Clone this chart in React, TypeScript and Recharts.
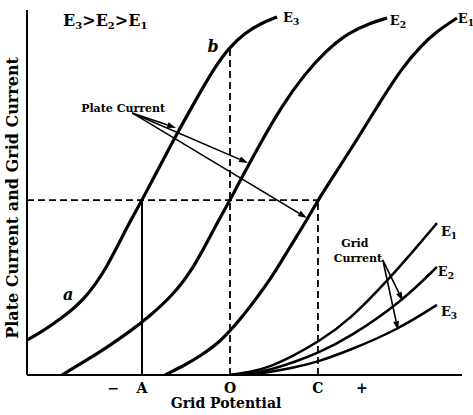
import React from 'react';
import { LineChart, Line, XAxis, YAxis, ReferenceLine, ReferenceDot } from 'recharts';

const SERIF = '"DejaVu Serif", "Liberation Serif", serif';

// grid potential (x) against current (y)
const plateE3 = [
  { x: -9.23, y: 9.6 }, { x: -8.64, y: 11.5 }, { x: -7.64, y: 15.6 }, { x: -6.64, y: 20.5 },
  { x: -5.64, y: 28.8 }, { x: -4.64, y: 41.1 }, { x: -4, y: 47.9 }, { x: -3.64, y: 52.1 },
  { x: -2.64, y: 63.6 }, { x: -1.64, y: 74.5 }, { x: -0.64, y: 84.9 }, { x: 0, y: 89.9 },
  { x: 0.68, y: 93.7 }, { x: 1.36, y: 96.2 }, { x: 2.14, y: 98.1 }
];
const plateE2 = [
  { x: -7.64, y: 0 }, { x: -6.64, y: 3.6 }, { x: -5.64, y: 7.4 }, { x: -4.64, y: 11.5 },
  { x: -3.64, y: 16.2 }, { x: -2.64, y: 21.6 }, { x: -1.64, y: 29.3 }, { x: -0.64, y: 41.1 },
  { x: 0, y: 47.9 }, { x: 0.36, y: 52.1 }, { x: 1.36, y: 63.3 }, { x: 2.36, y: 73.7 },
  { x: 3.36, y: 82.2 }, { x: 4.36, y: 88.8 }, { x: 5.36, y: 93.7 }, { x: 6.36, y: 96.4 },
  { x: 7.14, y: 97.8 }
];
const plateE1 = [
  { x: -2.95, y: 0 }, { x: -2.05, y: 2.7 }, { x: -1.36, y: 5.2 }, { x: -0.45, y: 9.0 },
  { x: 0.45, y: 15.1 }, { x: 1.14, y: 20.5 }, { x: 1.91, y: 26.8 }, { x: 2.73, y: 35.1 },
  { x: 3.41, y: 41.6 }, { x: 4, y: 47.9 }, { x: 4.77, y: 55.1 }, { x: 5.77, y: 64.4 },
  { x: 6.82, y: 74.8 }, { x: 7.86, y: 84.4 }, { x: 8.64, y: 89.9 }, { x: 9.41, y: 94.2 },
  { x: 10.32, y: 97.8 }
];
const gridE1 = [
  { x: 0, y: 0 }, { x: 0.91, y: 0.8 }, { x: 1.82, y: 2.2 }, { x: 2.95, y: 5.5 }, { x: 4, y: 9.0 },
  { x: 5.45, y: 15.1 }, { x: 7.27, y: 26.6 }, { x: 8.41, y: 34.5 }, { x: 9.41, y: 41.6 }
];
const gridE2 = [
  { x: 0, y: 0 }, { x: 0.91, y: 0.3 }, { x: 1.82, y: 1.4 }, { x: 2.95, y: 3.6 }, { x: 4, y: 6.0 },
  { x: 5.45, y: 10.4 }, { x: 7.73, y: 19.7 }, { x: 9.41, y: 29.6 }
];
const gridE3 = [
  { x: 0, y: 0 }, { x: 0.91, y: 0.1 }, { x: 1.82, y: 0.8 }, { x: 2.95, y: 2.1 }, { x: 4, y: 3.6 },
  { x: 5.45, y: 6.8 }, { x: 7.59, y: 12.3 }, { x: 9.41, y: 19.2 }
];

const xMin = -9.23;
const xMax = 10.55;
const tickValues = [-5.3, -4, 0, 4, 6];
const tickNames = ['−', 'A', 'O', 'C', '+'];

const levelY = 47.9; // dashed horizontal through A, O, C
const pointB = { x: 0, y: 89.9 };

const plateArrowFrom = { x: -4.45, y: 71.8 };
const plateArrowTo = [{ x: -2.45, y: 67.7 }, { x: 0.82, y: 58.1 }, { x: 3.5, y: 43.0 }];
const gridArrowFrom = { x: 6.95, y: 31.5 };
const gridArrowTo = [{ x: 7.86, y: 20.3 }, { x: 7.64, y: 12.3 }];

const curveLabels = [
  { x: 2.41, y: 96.7, n: '3' },
  { x: 7.27, y: 95.9, n: '2' },
  { x: 10.36, y: 96.4, n: '1' },
  { x: 9.59, y: 38.1, n: '1' },
  { x: 9.45, y: 27.1, n: '2' },
  { x: 9.59, y: 16.2, n: '3' }
];
const notes = [
  { x: -4.86, y: 72.1, text: 'Plate Current', size: 11, italic: false },
  { x: 5.68, y: 35.1, text: 'Grid', size: 11, italic: false },
  { x: 5.82, y: 31.0, text: 'Current', size: 11, italic: false },
  { x: -0.77, y: 88.5, text: 'b', size: 16, italic: true },
  { x: -7.36, y: 20.5, text: 'a', size: 16, italic: true }
];
const titlePos = { x: -7.59, y: 95.6 };
const yTitle = 'Plate Current and Grid Current';
const yTitlePos = { x: -9.64, y: 48.5 };

const Arrow = (props: any) => {
  const { x1, y1, x2, y2 } = props;
  if ([x1, y1, x2, y2].some((v) => typeof v !== 'number')) return null;
  const a = Math.atan2(y2 - y1, x2 - x1);
  const bx = x2 - 9 * Math.cos(a);
  const by = y2 - 9 * Math.sin(a);
  const s = Math.sin(a) * 3;
  const c = Math.cos(a) * 3;
  return (
    <g>
      <line x1={x1} y1={y1} x2={bx} y2={by} stroke="#000" strokeWidth={1.6} />
      <polygon points={`${x2},${y2} ${bx - s},${by + c} ${bx + s},${by - c}`} fill="#000" />
    </g>
  );
};

const ELabel = ({ x, y, n, size = 13 }: any) => (
  <text x={x} y={y} fontFamily={SERIF} fontWeight="bold" fontSize={size} fill="#000">
    E<tspan dy={3} fontSize={size * 0.7}>{n}</tspan>
  </text>
);

const Title = ({ x, y }: any) => (
  <text x={x} y={y} fontFamily={SERIF} fontWeight="bold" fontSize={16} fill="#000">
    E<tspan dy={3} fontSize={10}>3</tspan>
    <tspan dy={-3}>{'>'}E</tspan>
    <tspan dy={3} fontSize={10}>2</tspan>
    <tspan dy={-3}>{'>'}E</tspan>
    <tspan dy={3} fontSize={10}>1</tspan>
  </text>
);

const TickLabel = (props: any) => {
  const { x, y, payload } = props;
  const i = tickValues.indexOf(payload.value);
  return (
    <text x={x} y={y} dy="0.71em" textAnchor="middle" fontFamily={SERIF} fontWeight="bold" fontSize={14} fill="#000">
      {tickNames[i]}
    </text>
  );
};

const line = { type: 'basis' as const, dataKey: 'y', stroke: '#000', dot: false, isAnimationActive: false };

export default function App() {
  return (
    <div>
      <style>{'body{margin:0;background:#fff}'}</style>
      <LineChart width={473} height={415} margin={{ top: 10, right: 11, left: 27, bottom: 0 }}>
        <XAxis
          type="number"
          dataKey="x"
          domain={[xMin, xMax]}
          allowDataOverflow
          ticks={tickValues}
          interval={0}
          tickLine={false}
          axisLine={{ stroke: '#000', strokeWidth: 2 }}
          height={40}
          tick={<TickLabel />}
          label={() => (
            <text x={226} y={408} textAnchor="middle" fontFamily={SERIF} fontWeight="bold" fontSize={14} fill="#000">
              Grid Potential
            </text>
          )}
        />
        <YAxis type="number" domain={[0, 100]} allowDataOverflow hide />

        {/* y axis line */}
        <ReferenceLine segment={[{ x: xMin, y: 0 }, { x: xMin, y: 100 }]} ifOverflow="visible" stroke="#000" strokeWidth={2} />

        <ReferenceLine segment={[{ x: xMin, y: levelY }, { x: 4, y: levelY }]} stroke="#000" strokeWidth={1.8} strokeDasharray="7 4" />
        <ReferenceLine segment={[{ x: -4, y: 0 }, { x: -4, y: levelY }]} stroke="#000" strokeWidth={2} />
        <ReferenceLine segment={[{ x: 0, y: 0 }, pointB]} stroke="#000" strokeWidth={1.8} strokeDasharray="7 4" />
        <ReferenceLine segment={[{ x: 4, y: 0 }, { x: 4, y: levelY }]} stroke="#000" strokeWidth={1.8} strokeDasharray="7 4" />

        <Line {...line} data={plateE3} strokeWidth={3.2} />
        <Line {...line} data={plateE2} strokeWidth={3.2} />
        <Line {...line} data={plateE1} strokeWidth={3.2} />
        <Line {...line} data={gridE1} strokeWidth={2.5} />
        <Line {...line} data={gridE2} strokeWidth={2.5} />
        <Line {...line} data={gridE3} strokeWidth={2.5} />

        {plateArrowTo.map((p, i) => (
          <ReferenceLine key={'pa' + i} segment={[plateArrowFrom, p]} ifOverflow="visible" shape={<Arrow />} />
        ))}
        {gridArrowTo.map((p, i) => (
          <ReferenceLine key={'ga' + i} segment={[gridArrowFrom, p]} ifOverflow="visible" shape={<Arrow />} />
        ))}

        {curveLabels.map((l, i) => (
          <ReferenceDot
            key={'cl' + i}
            x={l.x}
            y={l.y}
            r={0}
            ifOverflow="visible"
            shape={(p: any) => <ELabel x={p.cx} y={p.cy} n={l.n} />}
          />
        ))}
        {notes.map((n, i) => (
          <ReferenceDot
            key={'n' + i}
            x={n.x}
            y={n.y}
            r={0}
            ifOverflow="visible"
            shape={(p: any) => (
              <text
                x={p.cx}
                y={p.cy}
                textAnchor="middle"
                fontFamily={SERIF}
                fontWeight="bold"
                fontStyle={n.italic ? 'italic' : 'normal'}
                fontSize={n.size}
                fill="#000"
              >
                {n.text}
              </text>
            )}
          />
        ))}
        <ReferenceDot
          x={titlePos.x}
          y={titlePos.y}
          r={0}
          ifOverflow="visible"
          shape={(p: any) => <Title x={p.cx} y={p.cy} />}
        />
        <ReferenceDot
          x={yTitlePos.x}
          y={yTitlePos.y}
          r={0}
          ifOverflow="visible"
          shape={(p: any) => (
            <text
              x={p.cx}
              y={p.cy}
              transform={`rotate(-90 ${p.cx} ${p.cy})`}
              textAnchor="middle"
              fontFamily={SERIF}
              fontWeight="bold"
              fontSize={16}
              fill="#000"
            >
              {yTitle}
            </text>
          )}
        />
      </LineChart>
    </div>
  );
}
